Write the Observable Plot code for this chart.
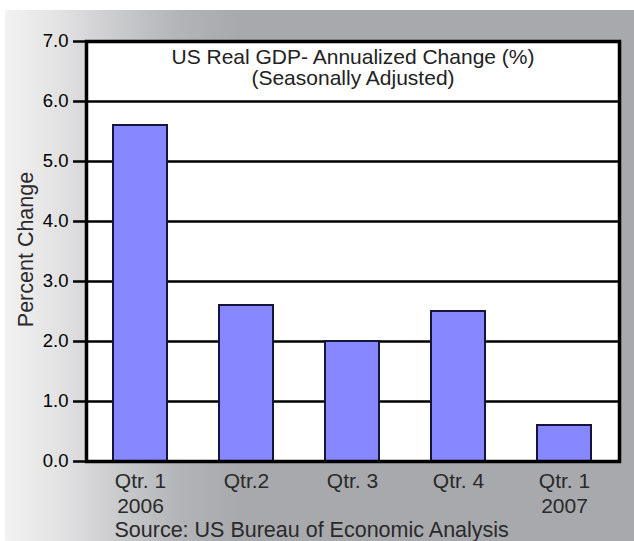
<!DOCTYPE html>
<html>
<head>
<meta charset="utf-8">
<script src="https://cdn.jsdelivr.net/npm/d3@7"></script>
<script src="https://cdn.jsdelivr.net/npm/@observablehq/plot@0.6"></script>
<style>
  body { margin: 0; background: #ffffff; }
  #wrap { position: relative; width: 634px; height: 541px; overflow: hidden; }
  #bg {
    position: absolute; left: 5px; top: 10px; right: 0; bottom: 0;
    background: linear-gradient(to right, #f2f2f2 0px, #e2e2e3 55px, #c9cacc 115px, #b3b4b7 175px, #a8a9ad 235px, #a8a9ad 100%);
  }
  #chart { position: absolute; left: 0; top: 0; }
</style>
</head>
<body>
<div id="wrap"><div id="bg"></div><div id="chart"></div></div>
<script>
const categories = ["Q1 2006", "Q2 2006", "Q3 2006", "Q4 2006", "Q1 2007"];
const quarterLabels = ["Qtr. 1", "Qtr.2", "Qtr. 3", "Qtr. 4", "Qtr. 1"];
const yearLabels = ["2006", "", "", "", "2007"];
const gdpChange = [5.6, 2.6, 2.0, 2.5, 0.6];
const yTicks = [0, 1, 2, 3, 4, 5, 6, 7];
const titleLines = ["US Real GDP- Annualized Change (%)", "(Seasonally Adjusted)"];
const yLabel = "Percent Change";
const sourceNote = "Source: US Bureau of Economic Analysis";

const data = categories.map((c, i) => ({category: c, value: gdpChange[i]}));
const tickText = new Map(categories.map((c, i) => [c, yearLabels[i] ? quarterLabels[i] + "\n" + yearLabels[i] : quarterLabels[i]]));

const chart = Plot.plot({
  width: 634,
  height: 541,
  marginLeft: 86,
  marginRight: 15,
  marginTop: 41,
  marginBottom: 80,
  style: {background: "transparent", fontFamily: "'Liberation Sans', Arial, Helvetica, sans-serif", color: "#000"},
  x: {domain: categories, paddingInner: 0.49, paddingOuter: 0.245, axis: null},
  y: {domain: [0, 7], axis: null},
  marks: [
    Plot.frame({fill: "white", stroke: null}),
    Plot.ruleY(yTicks, {stroke: "#000", strokeWidth: 2.5}),
    Plot.barY(data, {x: "category", y: "value", fill: "#8787ff", stroke: "#15153c", strokeWidth: 2}),
    Plot.frame({stroke: "#000", strokeWidth: 3.5}),
    Plot.axisY({
      ticks: yTicks, tickFormat: d => d.toFixed(1), tickSize: 13, tickPadding: 5,
      fontSize: 18.5, strokeWidth: 2.5, stroke: "#000", fill: "#000", label: null
    }),
    Plot.axisX({
      tickFormat: d => tickText.get(d), tickSize: 0, tickPadding: 8,
      fontSize: 21, lineHeight: 1.22, fill: "#2a2a2a", label: null
    }),
    Plot.text([titleLines.join("\n")], {
      frameAnchor: "top", dy: 7, lineAnchor: "top", lineHeight: 1.03,
      fontSize: 21, fill: "#222"
    }),
    Plot.text([yLabel], {
      frameAnchor: "left", textAnchor: "middle", dx: -60, dy: -2, rotate: -90, lineAnchor: "middle",
      fontSize: 21.5, fill: "#2a2a2a"
    }),
    Plot.text([sourceNote], {
      frameAnchor: "bottom-left", textAnchor: "start", dx: 28, dy: 69,
      lineAnchor: "middle", fontSize: 21.5, fill: "#2a2a2a"
    })
  ]
});
document.getElementById("chart").appendChild(chart);
</script>
</body>
</html>
